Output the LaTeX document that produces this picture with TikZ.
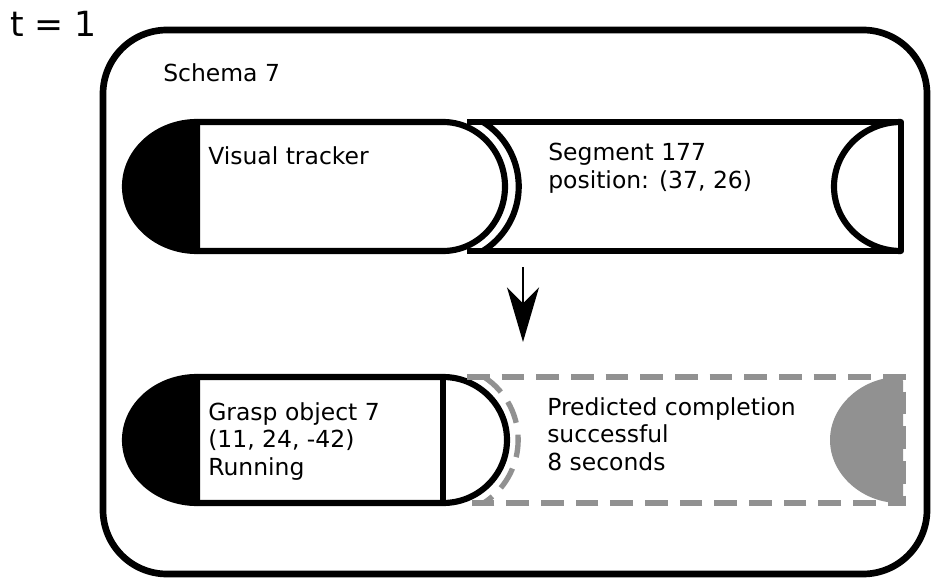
\documentclass[tikz,border=0pt]{standalone}
\usepackage{fontspec}
\setmainfont{DejaVu Sans}
\usepackage{xcolor}
\usetikzlibrary{arrows.meta}
\definecolor{predgray}{RGB}{145,145,145}
\tikzset{
	schemaline/.style={line width=4.6pt, line join=round},
	predline/.style={line width=4pt, predgray, dash pattern=on 17pt off 9pt},
	bodytext/.style={anchor=north west, inner sep=0pt, align=left,
			font=\fontsize{17.6}{20.6}\selectfont}
}

\begin{document}
\begin{tikzpicture}[x=0.75pt, y=-0.75pt]
		\useasboundingbox (0,0) rectangle (932,581);

		% Time and schema frame
		\node[anchor=base west, inner sep=0pt, font=\fontsize{26}{30}\selectfont] (tlabel) at (10,37) {t = 1};
		\draw[line width=5pt, rounded corners=48pt] (103,30) rectangle (927,574);
		\node[anchor=base west, inner sep=0pt, font=\fontsize{17.6}{20.6}\selectfont] (schema) at (163,82) {Schema 7};

		% Visual tracker capsule
		\draw[schemaline, fill=black] (197,122) arc[start angle=270, end angle=90, x radius=72, y radius=64.5] -- cycle;
		\draw[schemaline] (197,122) -- (443,122) arc[start angle=-90, end angle=90, x radius=62, y radius=64.5] -- (197,251);
		\node[bodytext] (tracker) at (208,146) {Visual tracker};

		% Segment socket
		\draw[schemaline] (483,122) arc[start angle=-58, end angle=58, radius=76];
		\draw[schemaline] (467,122) -- (901,122) -- (901,251) -- (467,251);
		\draw[schemaline] (901,122) arc[start angle=270, end angle=90, x radius=67, y radius=64.5];
		\node[bodytext] (segment) at (548,143) {Segment 177\\position: (37, 26)};

		% Step arrow
		\coordinate (arrowstart) at (523,267);
		\coordinate (arrowend) at (523,342);
		\draw[line width=2pt, -{Stealth[length=41pt, width=24pt, inset=12pt]}] (arrowstart) -- (arrowend);

		% Grasp object capsule
		\draw[schemaline, fill=black] (197,377) arc[start angle=270, end angle=90, x radius=72, y radius=63] -- cycle;
		\draw[schemaline] (197,377) -- (443,377) arc[start angle=-90, end angle=90, x radius=64, y radius=63] -- (197,503);
		\draw[schemaline] (443,377) -- (443,503);
		\node[bodytext] (grasp) at (208,402) {Grasp object 7\\(11, 24, -42)\\Running};

		% Predicted completion (dashed)
		\fill[predgray, rounded corners=3pt] (903,377) arc[start angle=270, end angle=90, x radius=73, y radius=63] -- cycle;
		\draw[predline] (484,377) arc[start angle=-57, end angle=57, radius=75];
		\draw[predline] (467,377) -- (903,377) -- (903,503) -- (467,503);
		\node[bodytext] (predicted) at (547,397) {Predicted completion\\successful\\8 seconds};
	\end{tikzpicture}
\end{document}
